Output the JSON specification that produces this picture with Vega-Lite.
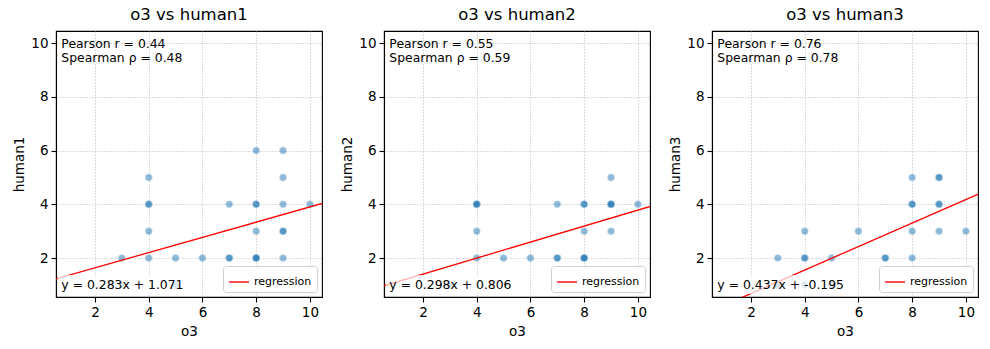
{
  "$schema": "https://vega.github.io/schema/vega-lite/v6.json",
  "autosize": {"type": "pad"},
  "padding": {"left": 12, "top": 5, "right": 5, "bottom": 5},
  "background": "white",
  "config": {
    "font": "DejaVu Sans",
    "view": {"stroke": "black", "strokeWidth": 1.1},
    "axis": {
      "labelFont": "DejaVu Sans", "labelFontSize": 13.5, "labelColor": "black",
      "titleFont": "DejaVu Sans", "titleFontSize": 13.5, "titleFontWeight": "normal", "titleColor": "black",
      "tickColor": "black", "tickSize": 5, "tickWidth": 1.1, "labelPadding": 3,
      "domainColor": "black", "domainWidth": 1.1,
      "grid": true, "gridColor": "#a8a8a8", "gridDash": [1, 2], "gridWidth": 0.8,
      "values": [2, 4, 6, 8, 10]
    },
    "axisX": {"titlePadding": 6},
    "title": {"font": "DejaVu Sans", "fontSize": 16.5, "fontWeight": "normal", "color": "black", "offset": 8},
    "legend": {
      "orient": "bottom-right", "offset": 5, "strokeColor": "#d0d0d0", "fillColor": "white",
      "cornerRadius": 3, "padding": 5, "title": null, "symbolType": "stroke", "symbolSize": 400,
      "symbolStrokeWidth": 1.4, "labelFont": "DejaVu Sans", "labelFontSize": 11, "labelColor": "black"
    }
  },
  "datasets": {
    "pts": [
      {"p":1,"o3":8,"h":6},{"p":1,"o3":9,"h":6},{"p":1,"o3":4,"h":5},{"p":1,"o3":9,"h":5},
      {"p":1,"o3":4,"h":4},{"p":1,"o3":4,"h":4},{"p":1,"o3":7,"h":4},{"p":1,"o3":8,"h":4},{"p":1,"o3":8,"h":4},{"p":1,"o3":9,"h":4},{"p":1,"o3":10,"h":4},
      {"p":1,"o3":4,"h":3},{"p":1,"o3":8,"h":3},{"p":1,"o3":9,"h":3},{"p":1,"o3":9,"h":3},
      {"p":1,"o3":3,"h":2},{"p":1,"o3":4,"h":2},{"p":1,"o3":5,"h":2},{"p":1,"o3":6,"h":2},{"p":1,"o3":7,"h":2},{"p":1,"o3":7,"h":2},{"p":1,"o3":8,"h":2},{"p":1,"o3":8,"h":2},{"p":1,"o3":8,"h":2},{"p":1,"o3":9,"h":2},
      {"p":1,"o3":3,"h":1},{"p":1,"o3":5,"h":1},
      {"p":2,"o3":9,"h":5},
      {"p":2,"o3":4,"h":4},{"p":2,"o3":4,"h":4},{"p":2,"o3":4,"h":4},{"p":2,"o3":7,"h":4},{"p":2,"o3":8,"h":4},{"p":2,"o3":8,"h":4},{"p":2,"o3":9,"h":4},{"p":2,"o3":9,"h":4},{"p":2,"o3":9,"h":4},{"p":2,"o3":10,"h":4},
      {"p":2,"o3":4,"h":3},{"p":2,"o3":8,"h":3},{"p":2,"o3":9,"h":3},
      {"p":2,"o3":4,"h":2},{"p":2,"o3":5,"h":2},{"p":2,"o3":6,"h":2},{"p":2,"o3":7,"h":2},{"p":2,"o3":7,"h":2},{"p":2,"o3":8,"h":2},{"p":2,"o3":8,"h":2},{"p":2,"o3":8,"h":2},
      {"p":2,"o3":3,"h":1},
      {"p":3,"o3":8,"h":5},{"p":3,"o3":9,"h":5},{"p":3,"o3":9,"h":5},
      {"p":3,"o3":8,"h":4},{"p":3,"o3":8,"h":4},{"p":3,"o3":9,"h":4},{"p":3,"o3":9,"h":4},
      {"p":3,"o3":4,"h":3},{"p":3,"o3":6,"h":3},{"p":3,"o3":8,"h":3},{"p":3,"o3":9,"h":3},{"p":3,"o3":10,"h":3},
      {"p":3,"o3":3,"h":2},{"p":3,"o3":4,"h":2},{"p":3,"o3":4,"h":2},{"p":3,"o3":5,"h":2},{"p":3,"o3":7,"h":2},{"p":3,"o3":7,"h":2},{"p":3,"o3":8,"h":2},
      {"p":3,"o3":3,"h":1},{"p":3,"o3":4,"h":1},{"p":3,"o3":5,"h":1}
    ],
    "reg": [
      {"p":1,"x":0,"y":1.071,"series":"regression"},{"p":1,"x":11,"y":4.184,"series":"regression"},
      {"p":2,"x":0,"y":0.806,"series":"regression"},{"p":2,"x":11,"y":4.084,"series":"regression"},
      {"p":3,"x":0,"y":-0.195,"series":"regression"},{"p":3,"x":11,"y":4.612,"series":"regression"}
    ],
    "box": [
      {"p":1,"x":0.62,"x2":5.42,"y":0.66,"y2":1.37},
      {"p":2,"x":0.62,"x2":5.43,"y":0.66,"y2":1.37},
      {"p":3,"x":0.62,"x2":5.57,"y":0.66,"y2":1.37}
    ],
    "txt": [
      {"p":1,"x":0.75,"y":9.83,"t":"Pearson r = 0.44"},{"p":1,"x":0.75,"y":9.31,"t":"Spearman ρ = 0.48"},{"p":1,"x":0.75,"y":0.84,"t":"y = 0.283x + 1.071"},
      {"p":2,"x":0.75,"y":9.83,"t":"Pearson r = 0.55"},{"p":2,"x":0.75,"y":9.31,"t":"Spearman ρ = 0.59"},{"p":2,"x":0.75,"y":0.84,"t":"y = 0.298x + 0.806"},
      {"p":3,"x":0.75,"y":9.83,"t":"Pearson r = 0.76"},{"p":3,"x":0.75,"y":9.31,"t":"Spearman ρ = 0.78"},{"p":3,"x":0.75,"y":0.84,"t":"y = 0.437x + -0.195"}
    ]
  },
  "spacing": 62,
  "bounds": "flush",
  "resolve": {"legend": {"color": "independent"}, "scale": {"color": "independent"}},
  "hconcat": [
    {
      "title": "o3 vs human1", "width": 266, "height": 266,
      "layer": [
        {"data": {"name": "pts"}, "transform": [{"filter": "datum.p == 1"}],
         "mark": {"type": "circle", "size": 56, "color": "#1f77b4", "opacity": 0.5, "stroke": "white", "strokeWidth": 0.5, "strokeOpacity": 1},
         "encoding": {
           "x": {"field": "o3", "type": "quantitative", "scale": {"domain": [0.55, 10.45], "nice": false}, "title": "o3"},
           "y": {"field": "h", "type": "quantitative", "scale": {"domain": [0.55, 10.45], "nice": false}, "title": "human1"}}},
        {"data": {"name": "reg"}, "transform": [{"filter": "datum.p == 1"}],
         "mark": {"type": "line", "clip": true, "strokeWidth": 1.3},
         "encoding": {"x": {"field": "x", "type": "quantitative"}, "y": {"field": "y", "type": "quantitative"},
           "color": {"field": "series", "type": "nominal", "scale": {"domain": ["regression"], "range": ["red"]}}}},
        {"data": {"name": "box"}, "transform": [{"filter": "datum.p == 1"}],
         "mark": {"type": "rect", "fill": "white", "opacity": 0.7},
         "encoding": {"x": {"field": "x", "type": "quantitative"}, "x2": {"field": "x2"}, "y": {"field": "y", "type": "quantitative"}, "y2": {"field": "y2"}}},
        {"data": {"name": "txt"}, "transform": [{"filter": "datum.p == 1"}],
         "mark": {"type": "text", "align": "left", "baseline": "alphabetic", "fontSize": 12.4, "font": "DejaVu Sans", "color": "black"},
         "encoding": {"x": {"field": "x", "type": "quantitative"}, "y": {"field": "y", "type": "quantitative"}, "text": {"field": "t"}}}
      ]
    },
    {
      "title": "o3 vs human2", "width": 266, "height": 266,
      "layer": [
        {"data": {"name": "pts"}, "transform": [{"filter": "datum.p == 2"}],
         "mark": {"type": "circle", "size": 56, "color": "#1f77b4", "opacity": 0.5, "stroke": "white", "strokeWidth": 0.5, "strokeOpacity": 1},
         "encoding": {
           "x": {"field": "o3", "type": "quantitative", "scale": {"domain": [0.55, 10.45], "nice": false}, "title": "o3"},
           "y": {"field": "h", "type": "quantitative", "scale": {"domain": [0.55, 10.45], "nice": false}, "title": "human2"}}},
        {"data": {"name": "reg"}, "transform": [{"filter": "datum.p == 2"}],
         "mark": {"type": "line", "clip": true, "strokeWidth": 1.3},
         "encoding": {"x": {"field": "x", "type": "quantitative"}, "y": {"field": "y", "type": "quantitative"},
           "color": {"field": "series", "type": "nominal", "scale": {"domain": ["regression"], "range": ["red"]}}}},
        {"data": {"name": "box"}, "transform": [{"filter": "datum.p == 2"}],
         "mark": {"type": "rect", "fill": "white", "opacity": 0.7},
         "encoding": {"x": {"field": "x", "type": "quantitative"}, "x2": {"field": "x2"}, "y": {"field": "y", "type": "quantitative"}, "y2": {"field": "y2"}}},
        {"data": {"name": "txt"}, "transform": [{"filter": "datum.p == 2"}],
         "mark": {"type": "text", "align": "left", "baseline": "alphabetic", "fontSize": 12.4, "font": "DejaVu Sans", "color": "black"},
         "encoding": {"x": {"field": "x", "type": "quantitative"}, "y": {"field": "y", "type": "quantitative"}, "text": {"field": "t"}}}
      ]
    },
    {
      "title": "o3 vs human3", "width": 266, "height": 266,
      "layer": [
        {"data": {"name": "pts"}, "transform": [{"filter": "datum.p == 3"}],
         "mark": {"type": "circle", "size": 56, "color": "#1f77b4", "opacity": 0.5, "stroke": "white", "strokeWidth": 0.5, "strokeOpacity": 1},
         "encoding": {
           "x": {"field": "o3", "type": "quantitative", "scale": {"domain": [0.55, 10.45], "nice": false}, "title": "o3"},
           "y": {"field": "h", "type": "quantitative", "scale": {"domain": [0.55, 10.45], "nice": false}, "title": "human3"}}},
        {"data": {"name": "reg"}, "transform": [{"filter": "datum.p == 3"}],
         "mark": {"type": "line", "clip": true, "strokeWidth": 1.3},
         "encoding": {"x": {"field": "x", "type": "quantitative"}, "y": {"field": "y", "type": "quantitative"},
           "color": {"field": "series", "type": "nominal", "scale": {"domain": ["regression"], "range": ["red"]}}}},
        {"data": {"name": "box"}, "transform": [{"filter": "datum.p == 3"}],
         "mark": {"type": "rect", "fill": "white", "opacity": 0.7},
         "encoding": {"x": {"field": "x", "type": "quantitative"}, "x2": {"field": "x2"}, "y": {"field": "y", "type": "quantitative"}, "y2": {"field": "y2"}}},
        {"data": {"name": "txt"}, "transform": [{"filter": "datum.p == 3"}],
         "mark": {"type": "text", "align": "left", "baseline": "alphabetic", "fontSize": 12.4, "font": "DejaVu Sans", "color": "black"},
         "encoding": {"x": {"field": "x", "type": "quantitative"}, "y": {"field": "y", "type": "quantitative"}, "text": {"field": "t"}}}
      ]
    }
  ]
}
